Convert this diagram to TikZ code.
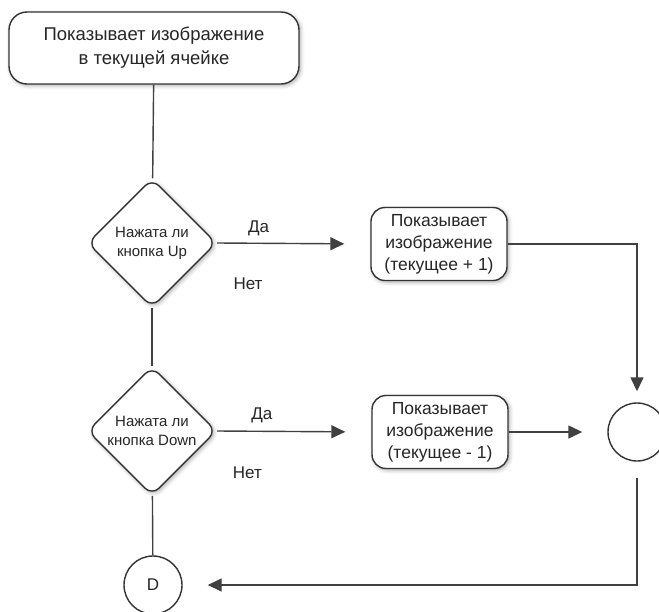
\documentclass[tikz,border=0pt]{standalone}
\usepackage{fontspec}
\setmainfont{Liberation Sans}
\usetikzlibrary{shapes.geometric, arrows.meta, shadows.blur}
\tikzset{
    softshadow/.style={blur shadow={shadow xshift=1.5pt, shadow yshift=-1.5pt, shadow blur radius=4pt, shadow opacity=35}},
    process/.style={draw=black!80, line width=1.4pt, fill=white, rounded corners=14pt, align=center,
        text=black!85, font=\fontsize{17.5}{22}\selectfont, minimum width=136pt, minimum height=73pt, softshadow},
    decision/.style={diamond, draw=black!80, line width=1.4pt, fill=white, rounded corners=10pt, align=center,
        text=black!85, font=\fontsize{15}{19}\selectfont, minimum size=129pt, inner sep=-5pt, softshadow},
    junction/.style={circle, draw=black!80, line width=1.4pt, fill=white, minimum size=58pt, inner sep=0pt,
        text=black!85, font=\fontsize{17}{20}\selectfont},
    line/.style={draw=black!75, line width=1.4pt},
    flow/.style={line, -{Triangle[length=14pt, width=13pt]}},
    answer/.style={text=black!85, font=\fontsize{17}{20}\selectfont}
}

\begin{document}
\begin{tikzpicture}[x=1pt, y=-1pt]
    \useasboundingbox (0,0) rectangle (659,611);

    % 1. Start box
    \node[process, minimum width=290pt, minimum height=72pt, rounded corners=18pt,
        font=\fontsize{18.5}{24}\selectfont] (show) at (154,48)
        {Показывает изображение\\в текущей ячейке};

    % 2. Decisions
    \node[decision] (up) at (152,243) {Нажата ли\\кнопка Up};
    \node[decision] (down) at (152,431) {Нажата ли\\кнопка Down};

    % 3. Actions
    \node[process] (plus) at (439,244) {Показывает\\изображение\\(текущее + 1)};
    \node[process] (minus) at (440,432) {Показывает\\изображение\\(текущее - 1)};

    % 4. Connectors
    \node[junction] (merge) at (637,432) {};
    \node[junction] (done) at (153,585) {D};

    % ==========================================
    % Main line (Нет branches)
    % ==========================================
    \draw[line] (show) -- (up);
    \draw[line] (up) -- (down)
        node[answer, pos=0, xshift=96pt, yshift=24pt] {Нет};
    \draw[line] (down) -- (done)
        node[answer, pos=0, xshift=95pt, yshift=23pt] {Нет};

    % ==========================================
    % Да branches
    % ==========================================
    \draw[flow, shorten >=26pt] (up.east) -- (plus.west)
        node[answer, pos=0.27, above=3pt] {Да};
    \draw[flow, shorten >=26pt] (down.east) -- (minus.west)
        node[answer, pos=0.29, above=4pt] {Да};

    % Back to the merge point and on to D
    \draw[flow, shorten >=11pt] (plus.east) -| (merge.north);
    \draw[flow, shorten >=25pt] (minus.east) -- (merge.west);
    \draw[flow, shorten <=16pt, shorten >=25pt] (merge.south) |- (done.east);

\end{tikzpicture}
\end{document}
